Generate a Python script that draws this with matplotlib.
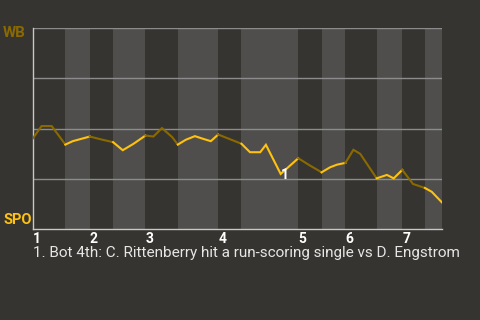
import matplotlib
matplotlib.use("Agg")
import matplotlib.pyplot as plt
import numpy as np

# play index (x) and WB win probability in % (y)
play_x = [0, 1.5, 3.3, 5.7, 7.0, 8.3, 10.0, 12.1, 14.1, 15.8, 17.7, 19.8, 21.2, 22.7,
          24.5, 25.5, 26.9, 28.5, 29.9, 31.3, 32.6, 36.7, 38.2, 40.0, 41.0, 43.6, 46.7,
          48.8, 50.8, 52.3, 53.5, 55.0, 56.4, 57.6, 60.5, 62.3, 63.5, 65.0, 66.9, 69.0,
          70.2, 72.0]
wb_prob = [45.2, 51.2, 51.2, 42.0, 43.7, 44.7, 46.0, 44.5, 43.2, 39.2, 42.4, 46.5, 46.0, 50.2,
           45.7, 42.0, 44.4, 46.2, 44.9, 43.7, 47.0, 42.4, 38.2, 38.2, 41.9, 27.4, 35.2,
           31.5, 28.2, 30.7, 32.0, 32.9, 39.4, 37.4, 25.2, 26.9, 25.2, 29.4, 22.4, 20.4,
           18.5, 13.2]
# half-inning boundaries (play index)
half_bounds = [0, 5.7, 10.0, 14.1, 19.8, 25.5, 32.6, 36.7, 46.7, 50.8, 55.0, 60.5, 65.0, 69.0, 72.0]
inning_labels = ["1", "2", "3", "4", "5", "6", "7"]
event_x = 43.6
event_y = 27.4
event_label = "1"
caption = "1. Bot 4th: C. Rittenberry hit a run-scoring single vs D. Engstrom"
team_top = "WB"
team_bottom = "SPO"

BG = "#363430"
BAND = "#4f4e4c"
DARK_GOLD = "#8a6a00"
YELLOW = "#ffc20e"

plt.rcParams['font.family'] = ['Roboto', 'DejaVu Sans']

fig = plt.figure(figsize=(4.8, 3.2), dpi=100, facecolor=BG)
ax = fig.add_axes([33/480, 1 - 229/320, 409/480, 201/320])
ax.set_facecolor(BG)
ax.set_xlim(half_bounds[0], half_bounds[-1])
ax.set_ylim(0, 100)

xs = np.array(play_x)
ys = np.array(wb_prob)
for i in range(len(half_bounds) - 1):
    a, b = half_bounds[i], half_bounds[i + 1]
    if i % 2 == 1:
        ax.axvspan(a, b, color=BAND, zorder=0, lw=0)
    inner = xs[(xs > a) & (xs < b)]
    seg_x = np.concatenate([[a], inner, [b]])
    seg_y = np.interp(seg_x, xs, ys)
    ax.plot(seg_x, seg_y, color=YELLOW if i % 2 == 1 else DARK_GOLD, lw=1.5,
            zorder=3, solid_joinstyle='miter')

for gy in [25, 50, 75, 100]:
    ax.axhline(gy, color="#8c8c8c", lw=1, zorder=1)

for s in ["top", "right"]:
    ax.spines[s].set_visible(False)
for s in ["left", "bottom"]:
    ax.spines[s].set_color("#c8c8c8")
    ax.spines[s].set_linewidth(1)
ax.set_yticks([])
ax.set_xticks(half_bounds[0:-1:2])
ax.set_xticklabels(inning_labels, fontsize=10, fontweight='bold', color="white", ha='left')
ax.tick_params(axis='x', length=0, pad=2)

ax.annotate(event_label, (event_x, event_y), xytext=(3, -1), textcoords='offset points',
            color="white", fontsize=10, fontweight='bold', ha='center', va='center', zorder=5)

fig.text(3/480, 1 - 33/320, team_top, color=DARK_GOLD, fontsize=10.8, fontweight='bold',
         ha='left', va='center')
fig.text(3/480, 1 - 220/320, team_bottom, color=YELLOW, fontsize=10.5, fontweight='bold',
         ha='left', va='center')
fig.text(33/480, 1 - 253/320, caption, color="#e6e6e6", fontsize=10.95, ha='left', va='center')

fig.savefig("out.png", dpi=100, facecolor=BG)
